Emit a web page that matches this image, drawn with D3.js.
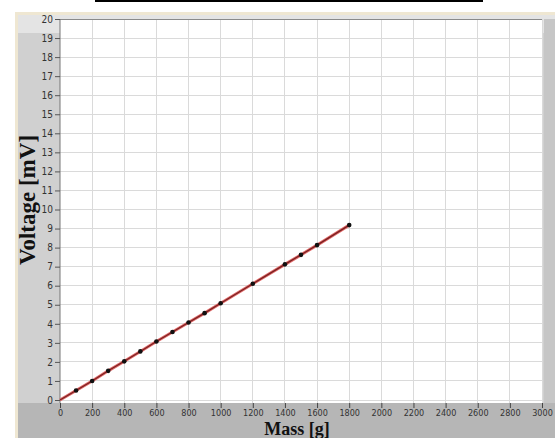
<!DOCTYPE html>
<html><head><meta charset="utf-8">
<script src="https://cdn.jsdelivr.net/npm/d3@7"></script>
<style>html,body{margin:0;padding:0;background:#fff;}svg{display:block;}</style>
</head><body>
<svg id="c" width="555" height="438"></svg>
<script>
const massValues = [0, 100, 200, 300, 400, 500, 600, 700, 800, 900, 1000, 1200, 1400, 1500, 1600, 1800];
const voltageValues = [0, 0.5, 1.0, 1.53, 2.03, 2.55, 3.07, 3.57, 4.07, 4.56, 5.08, 6.1, 7.12, 7.62, 8.13, 9.18];
const xTicks = [0, 200, 400, 600, 800, 1000, 1200, 1400, 1600, 1800, 2000, 2200, 2400, 2600, 2800, 3000];
const yTicks = [0,1,2,3,4,5,6,7,8,9,10,11,12,13,14,15,16,17,18,19,20];
const xLabel = "Mass [g]";
const yLabel = "Voltage [mV]";

const svg = d3.select("#c");
const L = 60, R = 542, T = 19, B = 400, plotBottom = 403;

// decorative top line
svg.append("rect").attr("x",95).attr("y",0).attr("width",388).attr("height",2).attr("fill","#000");
// outer frame
svg.append("rect").attr("x",15).attr("y",12).attr("width",540).attr("height",426).attr("fill","#efe7d2");
svg.append("rect").attr("x",18).attr("y",15).attr("width",537).attr("height",423).attr("fill","#d0d0d0");
svg.append("rect").attr("x",18).attr("y",15).attr("width",537).attr("height",18).attr("fill","#e4e4e4");
svg.append("rect").attr("x",18).attr("y",plotBottom).attr("width",537).attr("height",438-plotBottom).attr("fill","#b6b6b6");
svg.append("rect").attr("x",R+2).attr("y",T).attr("width",555-R-2).attr("height",plotBottom-T).attr("fill","#c6c6c6");

const x = d3.scaleLinear().domain([0,3000]).range([L,R]);
const y = d3.scaleLinear().domain([0,20]).range([B,T]);

// plot area
svg.append("rect").attr("x",L).attr("y",T).attr("width",R-L).attr("height",plotBottom-T).attr("fill","#fff");

// grid
svg.append("g").selectAll("line").data(xTicks.slice(1)).join("line")
  .attr("x1",d=>x(d)).attr("x2",d=>x(d)).attr("y1",T).attr("y2",plotBottom)
  .attr("stroke","#dadada").attr("stroke-width",1).attr("shape-rendering","crispEdges");
svg.append("g").selectAll("line").data(yTicks).join("line")
  .attr("x1",L).attr("x2",R).attr("y1",d=>y(d)).attr("y2",d=>y(d))
  .attr("stroke","#dadada").attr("stroke-width",1).attr("shape-rendering","crispEdges");

// plot border (top)
svg.append("line").attr("x1",L).attr("x2",R).attr("y1",T).attr("y2",T).attr("stroke","#8a8a8a").attr("shape-rendering","crispEdges");

const tickFont = "'DejaVu Sans Condensed','Liberation Sans Narrow',sans-serif";

// y axis
const yAxis = d3.axisLeft(y).tickValues(yTicks).tickSize(5).tickPadding(2).tickFormat(d3.format("d"));
const gy = svg.append("g").attr("transform",`translate(${L},0)`).call(yAxis);
gy.select(".domain").attr("stroke","#777").attr("d",`M0,${T}V${plotBottom}`);
gy.selectAll(".tick line").attr("stroke","#555");
gy.selectAll("text").attr("fill","#333").style("font-family",tickFont).style("font-size","10px");

// x axis
const xAxis = d3.axisBottom(x).tickValues(xTicks).tickSize(5).tickPadding(2).tickFormat(d3.format("d"));
const gx = svg.append("g").attr("transform",`translate(0,${plotBottom})`).call(xAxis);
gx.select(".domain").remove();
gx.selectAll(".tick line").attr("stroke","#444");
gx.selectAll("text").attr("fill","#333").style("font-family",tickFont).style("font-size","9px");

// line
const line = d3.line().x((d,i)=>x(massValues[i])).y(d=>y(d));
svg.append("path").datum(voltageValues).attr("d",line).attr("fill","none")
  .attr("stroke","#e06a6a").attr("stroke-width",3);
svg.append("path").datum(voltageValues).attr("d",line).attr("fill","none")
  .attr("stroke","#7a2020").attr("stroke-width",1.2);

// points (skip origin)
svg.append("g").selectAll("circle").data(voltageValues.slice(1)).join("circle")
  .attr("cx",(d,i)=>x(massValues[i+1])).attr("cy",d=>y(d)).attr("r",2.3).attr("fill","#111");

// axis labels
svg.append("text").attr("x",297).attr("y",434.5).attr("text-anchor","middle")
  .style("font-family","'Liberation Serif','DejaVu Serif',serif").style("font-weight","bold").style("font-size","18px")
  .attr("fill","#111").text(xLabel);
svg.append("text").attr("transform","translate(35,200) rotate(-90)").attr("text-anchor","middle")
  .style("font-family","'Liberation Serif','DejaVu Serif',serif").style("font-weight","bold").style("font-size","23px")
  .attr("fill","#111").text(yLabel);
</script>
</body></html>
